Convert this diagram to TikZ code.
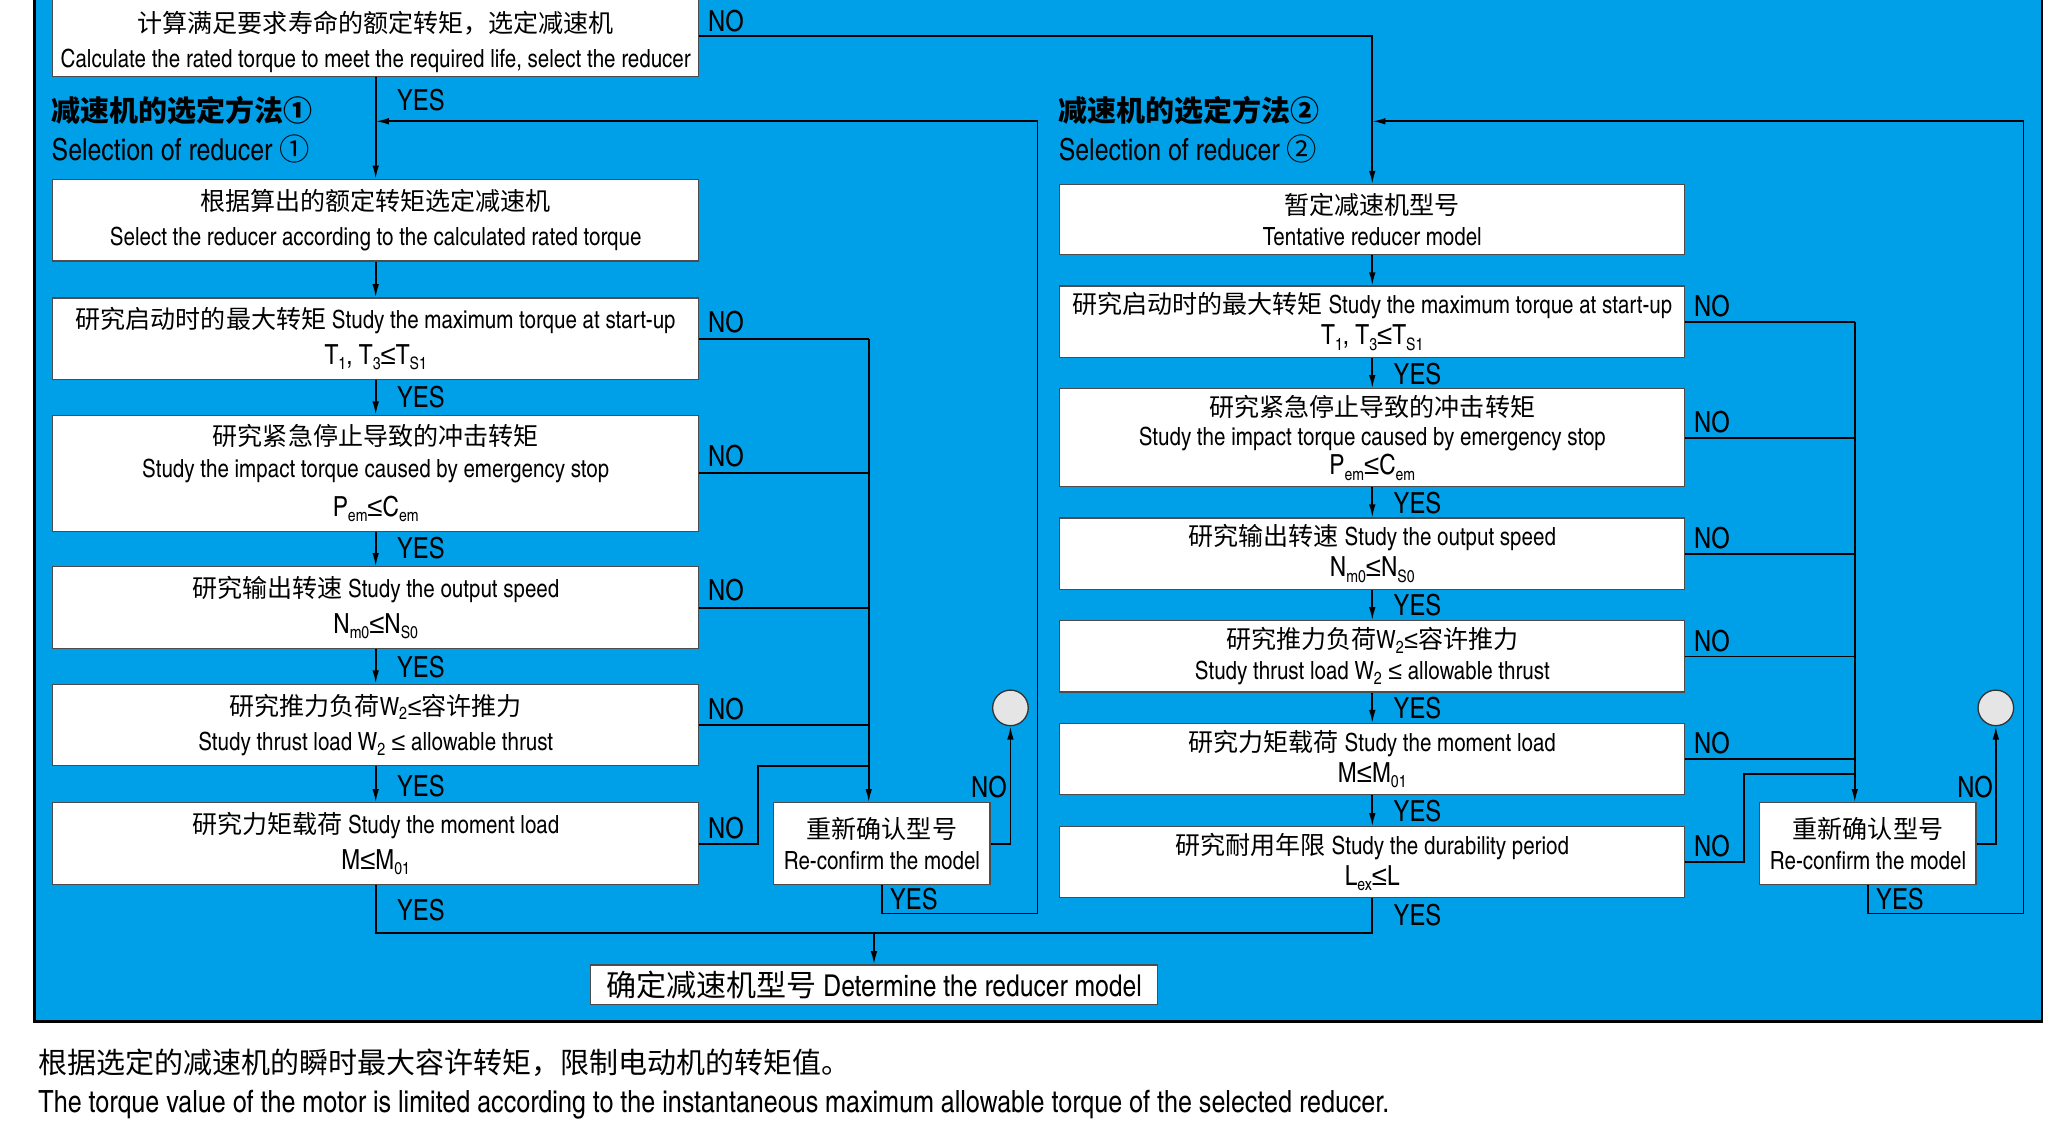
\documentclass[tikz,border=0pt]{standalone}
\usepackage{fontspec}
\setmainfont{texgyreheroscn}[Extension=.otf,UprightFont=*-regular,BoldFont=*-bold]
\newfontfamily\cjk{Noto Sans CJK SC}
\newfontfamily\symfont{Liberation Sans}
\usetikzlibrary{arrows.meta}
\definecolor{panelblue}{HTML}{00A0E9}
\newcommand\zh[1]{{\cjk #1}}
\newcommand\lessorequal{{\symfont ≤}}
\newcommand\lowidx[1]{\raisebox{-4pt}{\fontsize{13}{13}\selectfont #1}}
\newcommand\formula[1]{{\fontsize{21}{21}\selectfont #1}}

\begin{document}
\begin{tikzpicture}[
    x=1pt, y=-1pt,
    box/.style={draw=black!70, fill=white, line width=0.9pt, align=center, inner sep=0pt, font=\fontsize{19}{27}\selectfont},
    boxA/.style={box, minimum width=490pt},
    boxB/.style={box, minimum width=474pt, font=\fontsize{19}{23.5}\selectfont},
    recheck/.style={box, minimum width=164pt, minimum height=62pt, font=\fontsize{19}{24}\selectfont},
    yes/.style={anchor=west, inner sep=0pt, font=\fontsize{22}{22}\selectfont},
    no/.style={yes},
    heading/.style={anchor=west, inner sep=0pt, font=\fontsize{23}{23}\selectfont},
    link/.style={draw=black, line width=1.3pt},
    arr/.style={link, -{Latex[length=10pt,width=5pt]}},
    stopper/.style={circle, draw=black!80, fill=black!10, line width=1pt, minimum size=27pt, inner sep=0pt}
]
\useasboundingbox (0,0) rectangle (1568,861);
\fill[white] (0,0) rectangle (1568,861);
\draw[fill=panelblue, line width=2pt] (26,-10) rectangle (1549,775);

% method 1
\node[boxA, minimum height=61pt] (calc) at (285,27.5) {\rule{0pt}{25pt}\zh{计算满足要求寿命的额定转矩，选定减速机}\\Calculate the rated torque to meet the required life, select the reducer};
\node[heading, font=\fontsize{22}{22}\selectfont\bfseries] (titleA) at (39,84) {\zh{减速机的选定方法①}};
\node[heading] (subA) at (39,113) {Selection of reducer \zh{①}};
\node[boxA, minimum height=62pt] (pick) at (285,167) {\zh{根据算出的额定转矩选定减速机}\\Select the reducer according to the calculated rated torque};
\node[boxA, minimum height=62pt] (startA) at (285,257) {\zh{研究启动时的最大转矩} Study the maximum torque at start-up\\\formula{T\lowidx{1}, T\lowidx{3}\lessorequal T\lowidx{S1}}};
\node[boxA, minimum height=88pt] (stopA) at (285,359) {\zh{研究紧急停止导致的冲击转矩}\\[-3pt]Study the impact torque caused by emergency stop\\[3pt]\formula{P\lowidx{em}\lessorequal C\lowidx{em}}};
\node[boxA, minimum height=62pt] (speedA) at (285,461) {\zh{研究输出转速} Study the output speed\\\formula{N\lowidx{m0}\lessorequal N\lowidx{S0}}};
\node[boxA, minimum height=62pt] (thrustA) at (285,550) {\zh{研究推力负荷}W\textsubscript{2}\lessorequal\zh{容许推力}\\Study thrust load W\textsubscript{2} \lessorequal{} allowable thrust};
\node[boxA, minimum height=62pt] (momentA) at (285,640) {\zh{研究力矩载荷} Study the moment load\\\formula{M\lessorequal M\lowidx{01}}};
\node[recheck] (recA) at (669,640) {\zh{重新确认型号}\\Re-confirm the model};
\node[stopper] (circA) at (766.5,537) {};

% method 2
\node[heading, font=\fontsize{22}{22}\selectfont\bfseries] (titleB) at (803,84) {\zh{减速机的选定方法②}};
\node[heading] (subB) at (803,113) {Selection of reducer \zh{②}};
\node[boxB, minimum height=53pt] (tent) at (1041,166.5) {\zh{暂定减速机型号}\\Tentative reducer model};
\node[boxB, minimum height=54pt] (startB) at (1041,244) {\zh{研究启动时的最大转矩} Study the maximum torque at start-up\\\formula{T\lowidx{1}, T\lowidx{3}\lessorequal T\lowidx{S1}}};
\node[boxB, minimum height=74pt] (stopB) at (1041,332) {\zh{研究紧急停止导致的冲击转矩}\\[-1.5pt]Study the impact torque caused by emergency stop\\[-1pt]\formula{P\lowidx{em}\lessorequal C\lowidx{em}}};
\node[boxB, minimum height=54pt] (speedB) at (1041,420) {\zh{研究输出转速} Study the output speed\\\formula{N\lowidx{m0}\lessorequal N\lowidx{S0}}};
\node[boxB, minimum height=54pt] (thrustB) at (1041,498) {\zh{研究推力负荷}W\textsubscript{2}\lessorequal\zh{容许推力}\\Study thrust load W\textsubscript{2} \lessorequal{} allowable thrust};
\node[boxB, minimum height=54pt] (momentB) at (1041,576) {\zh{研究力矩载荷} Study the moment load\\\formula{M\lessorequal M\lowidx{01}}};
\node[boxB, minimum height=53.5pt] (lifeB) at (1041,654) {\zh{研究耐用年限} Study the durability period\\\formula{L\lowidx{ex}\lessorequal L}};
\node[recheck] (recB) at (1417,640) {\zh{重新确认型号}\\Re-confirm the model};
\node[stopper] (circB) at (1514,537) {};

\node[box, minimum width=430pt, minimum height=30pt, font=\fontsize{22.8}{22.8}\selectfont] (final) at (663,747) {\zh{确定减速机型号} Determine the reducer model};

\node[anchor=west, inner sep=0pt, font=\fontsize{22}{22}\selectfont] (noteZh) at (29,806) {\zh{根据选定的减速机的瞬时最大容许转矩，限制电动机的转矩值。}};
\node[anchor=west, inner sep=0pt, font=\fontsize{23.2}{23.2}\selectfont] (noteEn) at (29,838) {The torque value of the motor is limited according to the instantaneous maximum allowable torque of the selected reducer.};

% labels
\foreach \y [count=\i] in {76,301,416,506,596,690}
    \node[yes] (yesA\i) at (301,\y) {YES};
\foreach \y [count=\i] in {284,382,459,537,615,694}
    \node[yes] (yesB\i) at (1057,\y) {YES};
\foreach \y [count=\i] in {16,244,346,448,538,628}
    \node[no] (noA\i) at (537,\y) {NO};
\foreach \y [count=\i] in {232,320,408,486,564,642}
    \node[no] (noB\i) at (1285,\y) {NO};
\node[no, anchor=east] (noA7) at (764,597) {NO};
\node[no, anchor=east] (noB7) at (1512,597) {NO};
\node[yes] (yesA7) at (675,682) {YES};
\node[yes] (yesB7) at (1423,682) {YES};

% connectors
\coordinate (joinA) at (285,92);
\coordinate (loopA) at (787,693);
\coordinate (joinB) at (1041,92);
\coordinate (loopB) at (1535,693);
\coordinate (merge) at (663,708);
\draw[arr] (calc.east) -| (tent.north);
\draw[arr] (calc.south) -- (pick.north);
\draw[arr] (pick.south) -- (startA.north);
\draw[arr] (startA.south) -- (stopA.north);
\draw[arr] (stopA.south) -- (speedA.north);
\draw[arr] (speedA.south) -- (thrustA.north);
\draw[arr] (thrustA.south) -- (momentA.north);
\draw[arr] (tent.south) -- (startB.north);
\draw[arr] (startB.south) -- (stopB.north);
\draw[arr] (stopB.south) -- (speedB.north);
\draw[arr] (speedB.south) -- (thrustB.north);
\draw[arr] (thrustB.south) -- (momentB.north);
\draw[arr] (momentB.south) -- (lifeB.north);
\draw[link] (momentA.south) |- (merge) -| (lifeB.south);
\draw[arr] (merge) -- (final.north);
\draw[arr] (recA.south) |- (loopA) |- (joinA);
\draw[arr] (recB.south) |- (loopB) |- (joinB);

\coordinate (busA) at (659,257);
\coordinate (kinkA) at (575,581);
\draw[link] (startA.east) -- (busA);
\draw[link] (stopA.east) -- (stopA.east -| busA);
\draw[link] (speedA.east) -- (speedA.east -| busA);
\draw[link] (thrustA.east) -- (thrustA.east -| busA);
\draw[link] (momentA.east) -| (kinkA) -- (kinkA -| busA);
\draw[arr] (busA) -- (busA |- recA.north);
\draw[arr] (recA.east) -| (circA.south);

\coordinate (busB) at (1407,244);
\coordinate (kinkB) at (1323,587);
\draw[link] (startB.east) -- (busB);
\draw[link] (stopB.east) -- (stopB.east -| busB);
\draw[link] (speedB.east) -- (speedB.east -| busB);
\draw[link] (thrustB.east) -- (thrustB.east -| busB);
\draw[link] (momentB.east) -- (momentB.east -| busB);
\draw[link] (lifeB.east) -| (kinkB) -- (kinkB -| busB);
\draw[arr] (busB) -- (busB |- recB.north);
\draw[arr] (recB.east) -| (circB.south);
\end{tikzpicture}
\end{document}
